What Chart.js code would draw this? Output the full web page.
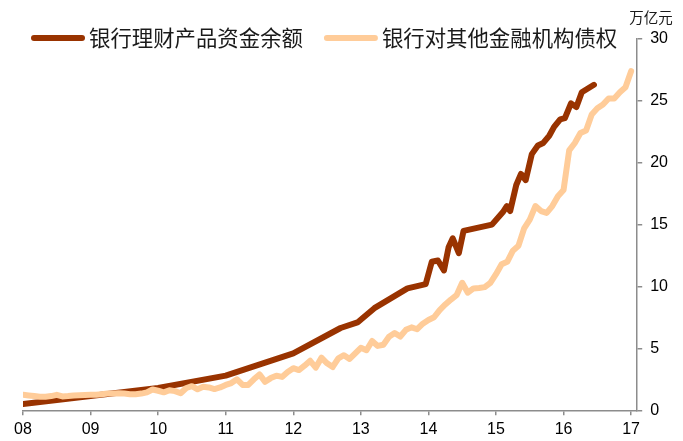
<!DOCTYPE html>
<html>
<head>
    <meta charset="utf-8">
    <title>银行理财产品资金余额 vs 银行对其他金融机构债权</title>
    <style>
        html, body {
            margin: 0;
            padding: 0;
            background-color: #fff;
        }

        #chartContainer {
            position: relative;
            width: 683px;
            height: 441px;
        }
    </style>
    <script src="https://cdn.jsdelivr.net/npm/chart.js"></script>
</head>
<body>
    <div id="chartContainer">
        <canvas id="wmpChart"></canvas>
    </div>

    <script>
        // x tick labels (years 2008 - 2017)
        var xTickLabels = ["08", "09", "10", "11", "12", "13", "14", "15", "16", "17"];

        // 银行理财产品资金余额 (万亿元), dates as decimal years
        var wmpDates = [2008.00, 2009.00, 2010.00, 2011.00, 2012.00, 2012.70, 2012.95, 2013.20, 2013.69, 2013.96,
            2014.05, 2014.14, 2014.23, 2014.30, 2014.36, 2014.45, 2014.52, 2014.94, 2015.10, 2015.16,
            2015.21, 2015.30, 2015.37, 2015.44, 2015.53, 2015.62, 2015.70, 2015.79, 2015.86, 2015.95,
            2016.02, 2016.11, 2016.19, 2016.27, 2016.36, 2016.45];
        var wmpValues = [0.5, 1.15, 1.8, 2.8, 4.6, 6.65, 7.1, 8.25, 9.85, 10.2,
            12.0, 12.1, 11.3, 13.2, 13.9, 12.7, 14.5, 15.0, 16.0, 16.5,
            16.1, 18.2, 19.1, 18.6, 20.7, 21.4, 21.6, 22.2, 22.9, 23.5,
            23.6, 24.8, 24.5, 25.7, 26.0, 26.3];

        // 银行对其他金融机构债权 (万亿元), monthly from 2008-01
        var claimsStart = 2008;
        var claimsValues = [
            1.26, 1.2, 1.15, 1.1, 1.1, 1.15, 1.25, 1.12, 1.15, 1.2, 1.22, 1.24,
            1.25, 1.26, 1.3, 1.35, 1.36, 1.38, 1.35, 1.3, 1.3, 1.35, 1.45, 1.68,
            1.58, 1.45, 1.62, 1.55, 1.38, 1.8, 1.95, 1.7, 1.9, 1.85, 1.72, 1.85,
            2.05, 2.2, 2.5, 2.05, 2.05, 2.5, 2.9, 2.3, 2.6, 2.8, 2.7, 3.1,
            3.4, 3.25, 3.6, 4.0, 3.45, 4.25, 3.8, 3.5, 4.2, 4.45, 4.15, 4.6,
            5.05, 4.85, 5.6, 5.2, 5.3, 5.95, 6.25, 5.96, 6.5, 6.7, 6.55, 7.0,
            7.3, 7.52, 8.1, 8.55, 8.95, 9.3, 10.3, 9.5, 9.85, 9.88, 9.95, 10.3,
            11.0, 11.8, 12.0, 12.9, 13.3, 14.7, 15.4, 16.5, 16.1, 15.95, 16.5, 17.3,
            17.8, 21.0, 21.6, 22.4, 22.6, 23.9, 24.4, 24.7, 25.2, 25.2, 25.7, 26.1,
            27.4
        ];

        var seriesLabels = ["银行理财产品资金余额", "银行对其他金融机构债权"];
        var unitLabel = "万亿元";

        var wmpPoints = wmpDates.map(function(d, i) {
            return { x: d, y: wmpValues[i] };
        });
        var claimsPoints = claimsValues.map(function(v, i) {
            return { x: claimsStart + i / 12, y: v };
        });

        // legend drawn as a line sample + label, sitting level with the top tick
        var headerPlugin = {
            id: "header",
            afterDraw: function(chart) {
                var ctx = chart.ctx;
                var area = chart.chartArea;
                ctx.save();
                ctx.font = '21.4px "Noto Sans CJK SC"';
                ctx.textBaseline = "middle";
                ctx.textAlign = "left";
                ctx.lineCap = "round";
                ctx.lineWidth = 6;
                var x = area.left + 11;
                var y = area.top - 1;
                chart.data.datasets.forEach(function(ds) {
                    ctx.strokeStyle = ds.borderColor;
                    ctx.beginPath();
                    ctx.moveTo(x, y);
                    ctx.lineTo(x + 48, y);
                    ctx.stroke();
                    ctx.fillStyle = "#1a1a1a";
                    ctx.fillText(ds.label, x + 55, y);
                    x += 55 + ctx.measureText(ds.label).width + 24;
                });

                ctx.font = '14.5px "Noto Sans CJK SC"';
                ctx.fillText(unitLabel, area.right - 8, 17);
                ctx.restore();
            }
        };

        var axisColor = "#8c8c8c";
        var tickFont = { family: "'Liberation Sans', Arial, sans-serif", size: 16 };

        new Chart(document.getElementById("wmpChart"), {
            type: "line",
            data: {
                datasets: [{
                    label: seriesLabels[0],
                    data: wmpPoints,
                    borderColor: "#993300",
                    backgroundColor: "#993300",
                    borderWidth: 6,
                    pointRadius: 0,
                    borderJoinStyle: "round",
                    borderCapStyle: "round",
                    order: 1
                }, {
                    label: seriesLabels[1],
                    data: claimsPoints,
                    borderColor: "#ffcc99",
                    backgroundColor: "#ffcc99",
                    borderWidth: 6,
                    pointRadius: 0,
                    borderJoinStyle: "round",
                    borderCapStyle: "round",
                    order: 0
                }]
            },
            options: {
                responsive: true,
                maintainAspectRatio: false,
                animation: false,
                layout: {
                    padding: { top: 39, left: 23, right: 7, bottom: -3.5 }
                },
                scales: {
                    x: {
                        type: "linear",
                        min: 2008,
                        max: 2017.09,
                        grid: {
                            drawOnChartArea: false,
                            drawTicks: true,
                            tickLength: 5,
                            color: axisColor,
                            lineWidth: 1.5
                        },
                        border: { display: true, color: axisColor, width: 1.5 },
                        ticks: {
                            stepSize: 1,
                            includeBounds: false,
                            autoSkip: false,
                            maxRotation: 0,
                            padding: 5,
                            color: "#000",
                            font: tickFont,
                            callback: function(value) {
                                return xTickLabels[Math.round(value - 2008)];
                            }
                        }
                    },
                    y: {
                        position: "right",
                        min: 0,
                        max: 30,
                        grid: {
                            drawOnChartArea: false,
                            drawTicks: true,
                            tickLength: 5,
                            color: axisColor,
                            lineWidth: 1.5
                        },
                        border: { display: true, color: axisColor, width: 1.5 },
                        ticks: {
                            stepSize: 5,
                            padding: 8,
                            color: "#000",
                            font: tickFont
                        }
                    }
                },
                plugins: {
                    legend: { display: false },
                    tooltip: { enabled: false }
                }
            },
            plugins: [headerPlugin]
        });
    </script>
</body>
</html>
